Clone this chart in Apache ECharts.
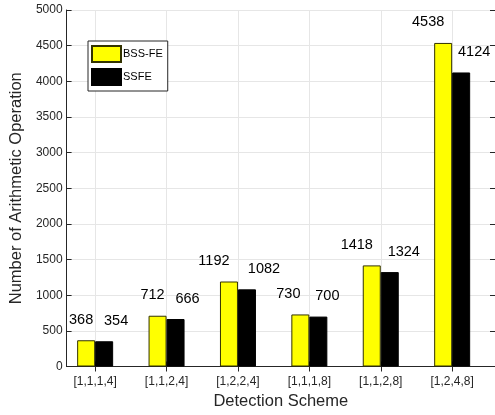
<!DOCTYPE html>
<html>
<head>
<meta charset="utf-8">
<script src="https://cdn.jsdelivr.net/npm/echarts@6/dist/echarts.min.js"></script>
<style>html,body{margin:0;padding:0;background:#fff;}#c{width:495px;height:415px;}</style>
</head>
<body>
<div id="c"></div>
<script>
var categories = ['[1,1,1,4]', '[1,1,2,4]', '[1,2,2,4]', '[1,1,1,8]', '[1,1,2,8]', '[1,2,4,8]'];
var bssfe = [368, 712, 1192, 730, 1418, 4538];
var ssfe = [354, 666, 1082, 700, 1324, 4124];
var yTicks = [0, 500, 1000, 1500, 2000, 2500, 3000, 3500, 4000, 4500, 5000];
// label horizontal nudges (style only)
var bssfeLabelDx = [-5, -5, -15, -12, -15, -15];
var ssfeLabelDx = [12, 12, 17, 9, 14, 13];

var positions = categories.map(function (c, i) { return i + 1; });
var FONT = 'Liberation Sans, Arial, Helvetica, sans-serif';
var AX = '#262626';

function mk(vals, dxs) {
  return vals.map(function (v, i) {
    return { value: [positions[i], v], label: { offset: [dxs[i], 0] } };
  });
}

var chart = echarts.init(document.getElementById('c'));
chart.setOption({
  animation: false,
  backgroundColor: '#fff',
  grid: { left: 64, right: -1, top: 10, bottom: 48 },
  legend: {
    orient: 'vertical',
    left: 88, top: 41,
    padding: [4, 5, 5, 3],
    itemWidth: 29, itemHeight: 16, itemGap: 5,
    backgroundColor: '#fff',
    borderColor: AX, borderWidth: 1, borderRadius: 0,
    icon: 'rect',
    textStyle: { fontFamily: FONT, fontSize: 11, color: '#000', padding: [0, 0, 0, -3] },
    data: ['BSS-FE', 'SSFE']
  },
  xAxis: [{
    type: 'value', min: 0.6, max: 6.6,
    name: 'Detection Scheme', nameLocation: 'middle', nameGap: 35,
    nameTextStyle: { fontFamily: FONT, fontSize: 16.5, color: AX, verticalAlign: 'middle' },
    axisLine: { show: true, lineStyle: { color: AX, width: 1 } },
    axisTick: { show: true, inside: true, length: 5, customValues: positions, lineStyle: { color: AX } },
    axisLabel: { customValues: positions, margin: 9, fontFamily: FONT, fontSize: 12, color: AX,
      formatter: function (v) { var i = Math.round(v) - 1; return categories[i] || ''; } },
    splitLine: { show: true, customValues: positions, lineStyle: { color: '#e6e6e6', width: 1 } }
  }, {
    type: 'value', min: 0.6, max: 6.6, position: 'top',
    axisLine: { show: true, lineStyle: { color: AX, width: 1 } },
    axisTick: { show: true, inside: true, length: 5, customValues: positions, lineStyle: { color: AX } },
    axisLabel: { show: false },
    splitLine: { show: false }
  }],
  yAxis: [{
    type: 'value', min: 0, max: 5000, interval: 500,
    name: 'Number of Arithmetic Operation', nameLocation: 'middle', nameGap: 47,
    nameTextStyle: { fontFamily: FONT, fontSize: 16.5, color: AX, verticalAlign: 'middle' },
    axisLine: { show: true, lineStyle: { color: AX, width: 1 } },
    axisTick: { show: true, inside: true, length: 5, lineStyle: { color: AX } },
    axisLabel: { margin: 4, fontFamily: FONT, fontSize: 12, color: AX,
      formatter: function (v) { return yTicks.indexOf(v) >= 0 ? String(v) : ''; } },
    splitLine: { show: true, lineStyle: { color: '#e6e6e6', width: 1 } }
  }, {
    type: 'value', min: 0, max: 5000, interval: 500, position: 'right',
    axisLine: { show: true, lineStyle: { color: AX, width: 1 } },
    axisTick: { show: true, inside: true, length: 5, lineStyle: { color: AX } },
    axisLabel: { show: false },
    splitLine: { show: false }
  }],
  series: [{
    name: 'BSS-FE', type: 'bar', xAxisIndex: 0, yAxisIndex: 0,
    barWidth: 18, barGap: '0%',
    itemStyle: { color: '#ffff00', borderColor: '#333300', borderWidth: 1 },
    label: { show: true, position: 'top', distance: 13, fontFamily: FONT, fontSize: 14.5, color: '#000' },
    data: mk(bssfe, bssfeLabelDx)
  }, {
    name: 'SSFE', type: 'bar', xAxisIndex: 0, yAxisIndex: 0,
    barWidth: 18, barGap: '0%',
    itemStyle: { color: '#000000', borderColor: '#000000', borderWidth: 1 },
    label: { show: true, position: 'top', distance: 13, fontFamily: FONT, fontSize: 14.5, color: '#000' },
    data: mk(ssfe, ssfeLabelDx)
  }]
});
</script>
</body>
</html>
